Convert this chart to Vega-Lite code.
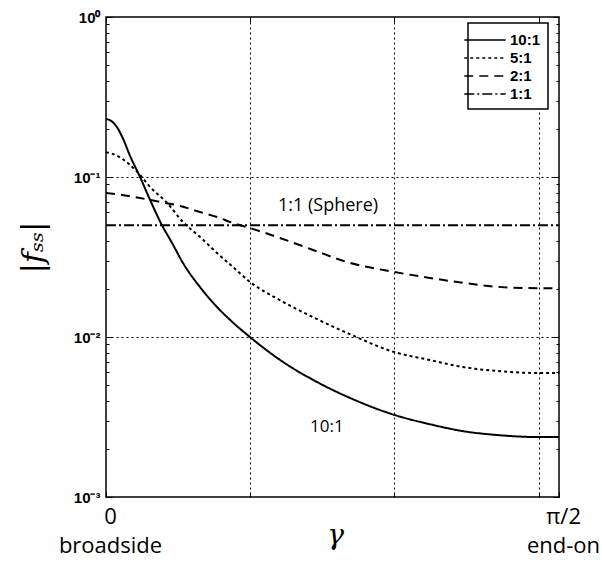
{
  "$schema": "https://vega.github.io/schema/vega-lite/v6.json",
  "width": 453,
  "height": 480,
  "autosize": "none",
  "padding": {"left": 106, "top": 17, "right": 43, "bottom": 66},
  "background": "white",
  "config": {
    "view": {"stroke": "black", "strokeWidth": 1.5},
    "legend": {
      "orient": "none", "legendX": 362, "legendY": 6, "strokeColor": "black", "strokeWidth": 1.5,
      "fillColor": "white", "padding": 7, "symbolType": "M-2.3,0H2.3", "symbolSize": 324,
      "symbolStrokeWidth": 1.5, "symbolStrokeColor": "black", "labelFontSize": 15,
      "labelFontWeight": "bold", "labelFont": "Liberation Sans", "labelColor": "black",
      "labelOffset": 15, "rowPadding": 0
    }
  },
  "layer": [
    {
      "data": {"values": [
        {"g": 0, "f": 0.2305, "r": "10:1"},
        {"g": 0.015, "f": 0.226, "r": "10:1"},
        {"g": 0.038, "f": 0.205, "r": "10:1"},
        {"g": 0.06, "f": 0.172, "r": "10:1"},
        {"g": 0.083, "f": 0.136, "r": "10:1"},
        {"g": 0.118, "f": 0.1, "r": "10:1"},
        {"g": 0.153, "f": 0.0718, "r": "10:1"},
        {"g": 0.194, "f": 0.05, "r": "10:1"},
        {"g": 0.229, "f": 0.0387, "r": "10:1"},
        {"g": 0.267, "f": 0.029, "r": "10:1"},
        {"g": 0.326, "f": 0.0205, "r": "10:1"},
        {"g": 0.385, "f": 0.0154, "r": "10:1"},
        {"g": 0.43, "f": 0.0128, "r": "10:1"},
        {"g": 0.499, "f": 0.01, "r": "10:1"},
        {"g": 0.614, "f": 0.00698, "r": "10:1"},
        {"g": 0.732, "f": 0.00523, "r": "10:1"},
        {"g": 0.846, "f": 0.00416, "r": "10:1"},
        {"g": 1.002, "f": 0.00325, "r": "10:1"},
        {"g": 1.123, "f": 0.00285, "r": "10:1"},
        {"g": 1.238, "f": 0.00258, "r": "10:1"},
        {"g": 1.356, "f": 0.00244, "r": "10:1"},
        {"g": 1.498, "f": 0.00237, "r": "10:1"},
        {"g": 1.5708, "f": 0.00237, "r": "10:1"},
        {"g": 0, "f": 0.143, "r": "5:1"},
        {"g": 0.038, "f": 0.136, "r": "5:1"},
        {"g": 0.083, "f": 0.119, "r": "5:1"},
        {"g": 0.118, "f": 0.103, "r": "5:1"},
        {"g": 0.153, "f": 0.0866, "r": "5:1"},
        {"g": 0.212, "f": 0.0688, "r": "5:1"},
        {"g": 0.267, "f": 0.0523, "r": "5:1"},
        {"g": 0.326, "f": 0.0422, "r": "5:1"},
        {"g": 0.385, "f": 0.0335, "r": "5:1"},
        {"g": 0.44, "f": 0.0274, "r": "5:1"},
        {"g": 0.499, "f": 0.0221, "r": "5:1"},
        {"g": 0.603, "f": 0.017, "r": "5:1"},
        {"g": 0.718, "f": 0.0133, "r": "5:1"},
        {"g": 0.836, "f": 0.0106, "r": "5:1"},
        {"g": 0.999, "f": 0.00806, "r": "5:1"},
        {"g": 1.123, "f": 0.00718, "r": "5:1"},
        {"g": 1.238, "f": 0.00649, "r": "5:1"},
        {"g": 1.356, "f": 0.00613, "r": "5:1"},
        {"g": 1.498, "f": 0.00596, "r": "5:1"},
        {"g": 1.5708, "f": 0.00596, "r": "5:1"},
        {"g": 0, "f": 0.0794, "r": "2:1"},
        {"g": 0.049, "f": 0.0775, "r": "2:1"},
        {"g": 0.118, "f": 0.0739, "r": "2:1"},
        {"g": 0.187, "f": 0.0698, "r": "2:1"},
        {"g": 0.257, "f": 0.0659, "r": "2:1"},
        {"g": 0.326, "f": 0.0604, "r": "2:1"},
        {"g": 0.385, "f": 0.0562, "r": "2:1"},
        {"g": 0.44, "f": 0.0516, "r": "2:1"},
        {"g": 0.499, "f": 0.048, "r": "2:1"},
        {"g": 0.603, "f": 0.0416, "r": "2:1"},
        {"g": 0.718, "f": 0.035, "r": "2:1"},
        {"g": 0.836, "f": 0.0294, "r": "2:1"},
        {"g": 0.999, "f": 0.0255, "r": "2:1"},
        {"g": 1.123, "f": 0.0234, "r": "2:1"},
        {"g": 1.238, "f": 0.0218, "r": "2:1"},
        {"g": 1.356, "f": 0.0206, "r": "2:1"},
        {"g": 1.498, "f": 0.0202, "r": "2:1"},
        {"g": 1.5708, "f": 0.0202, "r": "2:1"},
        {"g": 0, "f": 0.05, "r": "1:1"},
        {"g": 1.5708, "f": 0.05, "r": "1:1"}
      ]},
      "mark": {"type": "line", "color": "black", "strokeWidth": 2, "clip": true, "interpolate": "monotone"},
      "encoding": {
        "x": {
          "field": "g", "type": "quantitative",
          "scale": {"domain": [0, 1.5708], "nice": false, "zero": false},
          "axis": {
            "values": [0, 0.5, 1, 1.5, 1.5708],
            "labelExpr": "datum.value < 0.01 ? ['0', 'broadside'] : datum.value > 1.55 ? ['π/2', 'end-on'] : ''",
            "labelFont": "Open Sans", "labelFontSize": 22, "labelColor": "black",
            "labelLineHeight": 29, "labelPadding": 14, "labelOffset": 4, "labelFlush": false, "labelOverlap": false,
            "tickSize": -5, "tickColor": "black", "domain": false,
            "grid": true, "gridColor": "black", "gridDash": [2, 3], "gridWidth": 1,
            "gridOpacity": {"condition": {"test": "datum.value > 0.4 && datum.value < 1.55", "value": 1}, "value": 0},
            "title": "γ", "titleFont": "DejaVu Serif", "titleFontStyle": "italic", "titleFontWeight": "normal",
            "titleFontSize": 28, "titleColor": "black", "titleX": 229, "titleY": 46, "titleBaseline": "alphabetic"
          }
        },
        "y": {
          "field": "f", "type": "quantitative",
          "scale": {"type": "log", "domain": [0.001, 1], "nice": false},
          "axis": {
            "values": [0.001, 0.002, 0.003, 0.004, 0.005, 0.006, 0.007, 0.008, 0.009, 0.01, 0.02, 0.03, 0.04, 0.05, 0.06, 0.07, 0.08, 0.09, 0.1, 0.2, 0.3, 0.4, 0.5, 0.6, 0.7, 0.8, 0.9, 1],
            "labelExpr": "abs(log(datum.value)/LN10 - round(log(datum.value)/LN10)) < 0.001 ? ['10⁰', '10⁻¹', '10⁻²', '10⁻³'][-round(log(datum.value)/LN10)] : ''",
            "labelFont": "Liberation Sans", "labelFontSize": 15, "labelFontWeight": "bold", "labelColor": "black",
            "labelPadding": 12, "labelOverlap": false, "labelFlush": false,
            "tickColor": "black",
            "tickSize": {"condition": {"test": "abs(log(datum.value)/LN10 - round(log(datum.value)/LN10)) < 0.001", "value": -6}, "value": -3},
            "domain": false,
            "grid": true, "gridColor": "black", "gridDash": [2, 3], "gridWidth": 1,
            "gridOpacity": {"condition": {"test": "abs(log(datum.value)/LN10 - round(log(datum.value)/LN10)) < 0.001 && datum.value > 0.005 && datum.value < 0.5", "value": 1}, "value": 0},
            "title": "|fₛₛ|", "titleFont": "DejaVu Serif", "titleFontStyle": "italic", "titleFontWeight": "normal",
            "titleFontSize": 30, "titleColor": "black", "titleAngle": -90, "titleX": -73, "titleY": 230,
            "titleAlign": "center", "titleBaseline": "middle"
          }
        },
        "strokeDash": {
          "field": "r", "type": "nominal",
          "scale": {"domain": ["10:1", "5:1", "2:1", "1:1"], "range": [[1, 0], [3, 3], [9, 6], [10, 3, 2, 3]]},
          "legend": {"title": null, "labelFontSize": 15, "labelFontWeight": "bold", "labelFont": "Liberation Sans"}
        }
      }
    },
    {
      "data": {"values": [
        {"g": 0.77, "f": 0.0659, "label": "1:1 (Sphere)", "w": "normal", "s": 18},
        {"g": 0.766, "f": 0.00274, "label": "10:1", "w": "bold", "s": 17}
      ]},
      "mark": {"type": "text", "font": "Open Sans", "color": "black", "align": "center", "baseline": "middle"},
      "encoding": {
        "x": {"field": "g", "type": "quantitative", "axis": {"orient": "top", "labels": false, "title": null, "grid": false, "domain": false, "values": [0, 0.5, 1, 1.5], "tickSize": -5, "tickColor": "black"}},
        "y": {"field": "f", "type": "quantitative", "axis": {"orient": "right", "labels": false, "title": null, "grid": false, "domain": false, "tickColor": "black",
          "values": [0.001, 0.002, 0.003, 0.004, 0.005, 0.006, 0.007, 0.008, 0.009, 0.01, 0.02, 0.03, 0.04, 0.05, 0.06, 0.07, 0.08, 0.09, 0.1, 0.2, 0.3, 0.4, 0.5, 0.6, 0.7, 0.8, 0.9, 1],
          "tickSize": {"condition": {"test": "abs(log(datum.value)/LN10 - round(log(datum.value)/LN10)) < 0.001", "value": -6}, "value": -3}}},
        "text": {"field": "label", "type": "nominal"},
        "fontWeight": {"field": "w", "type": "nominal", "scale": null},
        "size": {"field": "s", "type": "quantitative", "scale": null}
      }
    }
  ],
  "resolve": {"axis": {"x": "independent", "y": "independent"}}
}
